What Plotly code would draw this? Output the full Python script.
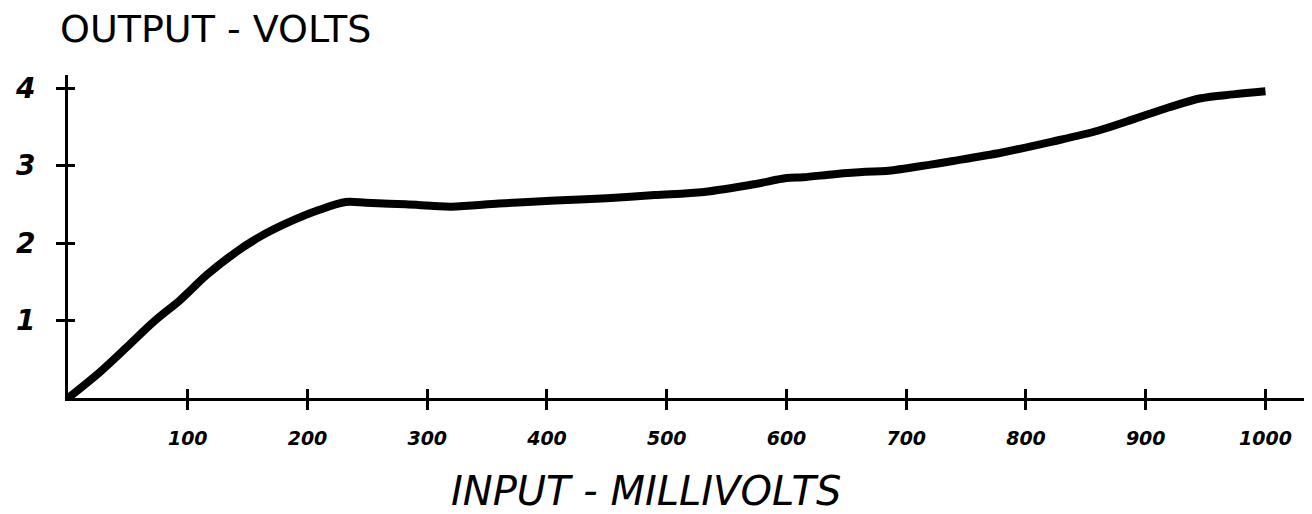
import plotly.graph_objects as go

# Data
input_mv = [0, 27, 50, 72, 94, 116, 139, 160, 183, 210, 232, 249, 282, 320, 360,
            407, 450, 490, 531, 573, 600, 614, 640, 666, 683, 719, 739, 780, 822,
            860, 890, 919, 946, 973, 1000]
output_v = [0, 0.34, 0.67, 0.99, 1.27, 1.59, 1.87, 2.08, 2.26, 2.43, 2.53, 2.52,
            2.50, 2.47, 2.51, 2.55, 2.58, 2.62, 2.66, 2.76, 2.84, 2.85, 2.89, 2.92,
            2.93, 3.01, 3.06, 3.17, 3.31, 3.45, 3.60, 3.75, 3.87, 3.92, 3.96]

x_tickvals = [100, 200, 300, 400, 500, 600, 700, 800, 900, 1000]
x_ticktext = ["100", "200", "300", "400", "500", "600", "700", "800", "900", "1000"]
y_tickvals = [1, 2, 3, 4]
y_ticktext = ["1", "2", "3", "4"]

FONT = "DejaVu Sans"
XR = [0, 1033]
YR = [0, 4.17]

fig = go.Figure()
fig.add_trace(go.Scatter(
    x=input_mv, y=output_v, mode="lines",
    line=dict(color="black", width=8, shape="spline", smoothing=0.9),
    showlegend=False, hoverinfo="x+y",
))
# invisible companion trace so the overlay axes (inner tick halves) are drawn
fig.add_trace(go.Scatter(
    x=input_mv, y=output_v, mode="lines", xaxis="x2", yaxis="y2",
    line=dict(color="rgba(0,0,0,0)", width=0), showlegend=False, hoverinfo="skip",
))

fig.update_layout(
    width=1304, height=506,
    margin=dict(l=52, r=7, t=67, b=116),
    paper_bgcolor="white", plot_bgcolor="white",
    title=dict(text="OUTPUT - VOLTS", x=52/1304, xanchor="left",
               y=1 - 21/506, yanchor="middle", yref="container",
               font=dict(family=FONT, size=38, color="black")),
    xaxis=dict(range=XR, showline=True, linecolor="black", linewidth=3,
               showgrid=False, zeroline=False,
               tickvals=x_tickvals, ticktext=[f"<b><i>{t}</i></b>" for t in x_ticktext],
               ticks="outside", ticklen=9, tickwidth=3, tickcolor="black",
               ticklabelstandoff=12,
               tickfont=dict(family=FONT, size=19, color="black")),
    yaxis=dict(range=YR, showline=True, linecolor="black", linewidth=3,
               showgrid=False, zeroline=False,
               tickvals=y_tickvals, ticktext=[f"<b><i>{t}</i></b>" for t in y_ticktext],
               ticks="outside", ticklen=9, tickwidth=3, tickcolor="black",
               ticklabelstandoff=15,
               tickfont=dict(family=FONT, size=28, color="black")),
    xaxis2=dict(range=XR, overlaying="x", anchor="y", side="bottom",
                showline=False, showgrid=False, zeroline=False,
                tickvals=x_tickvals, showticklabels=False,
                ticks="inside", ticklen=9, tickwidth=3, tickcolor="black"),
    yaxis2=dict(range=YR, overlaying="y", anchor="x", side="left",
                showline=False, showgrid=False, zeroline=False,
                tickvals=y_tickvals, showticklabels=False,
                ticks="inside", ticklen=7, tickwidth=3, tickcolor="black"),
    annotations=[dict(text="<i>INPUT - MILLIVOLTS</i>", xref="paper", yref="paper",
                      x=(642 - 60) / 1245, y=(398 - 491) / 323,
                      xanchor="center", yanchor="middle", showarrow=False,
                      font=dict(family=FONT, size=40, color="black"))],
)

fig.write_html("out.html")
